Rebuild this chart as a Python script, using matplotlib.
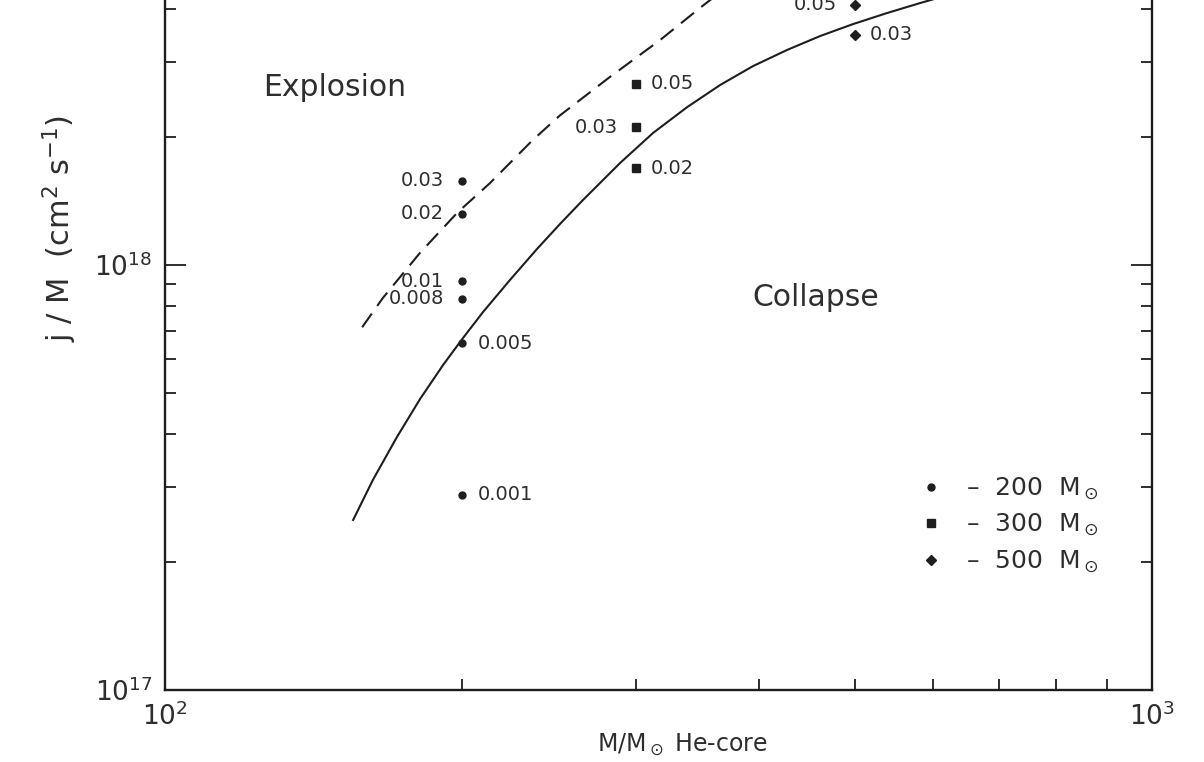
import matplotlib.pyplot as plt
from matplotlib.ticker import NullFormatter
from matplotlib.lines import Line2D

# He-core mass of each model and j/M of the computed runs
m_200 = [200, 200, 200, 200, 200, 200]
j_200 = [1.58e18, 1.32e18, 9.17e17, 8.32e17, 6.55e17, 2.88e17]
eps_200 = ['0.03', '0.02', '0.01', '0.008', '0.005', '0.001']

m_300 = [300, 300, 300]
j_300 = [2.67e18, 2.11e18, 1.69e18]
eps_300 = ['0.05', '0.03', '0.02']

m_500 = [500, 500]
j_500 = [3.48e18, 4.10e18]
eps_500 = ['0.03', '0.05']

# boundary between explosion and collapse
solid_m = [155.1, 162.4, 171.8, 181.3, 191.3, 200.4, 210.0, 223.6, 238.1, 251.3,
           265.1, 289.1, 312.2, 338.1, 365.1, 394.3, 426.7, 461.0, 497.9, 538.9,
           582.1, 631.6]
solid_j = [2.512e17, 3.120e17, 3.939e17, 4.838e17, 5.817e17, 6.733e17, 7.752e17,
           9.220e17, 1.090e18, 1.249e18, 1.422e18, 1.738e18, 2.045e18, 2.353e18,
           2.652e18, 2.939e18, 3.206e18, 3.458e18, 3.690e18, 3.917e18, 4.135e18,
           4.365e18]

dash_m = [158.4, 166.2, 181.2, 197.9, 213.5, 235.9, 251.3, 282.3, 317.2, 348.5, 373.2]
dash_j = [7.14e17, 8.36e17, 1.067e18, 1.33e18, 1.56e18, 1.97e18, 2.25e18, 2.77e18,
          3.38e18, 4.03e18, 4.56e18]

# which side each number sits on
side_200 = ['l', 'l', 'l', 'l', 'r', 'r']
side_300 = ['r', 'l', 'r']
side_500 = ['r', 'l']

ink = '#1e1e1e'
txt = '#2e2e2e'

fig = plt.figure(figsize=(12.04, 7.62), dpi=100)
ax = fig.add_axes([165 / 1204, 72 / 762, 987 / 1204, 722 / 762])
ax.set_xscale('log')
ax.set_yscale('log')
ax.set_xlim(100, 1000)
ax.set_ylim(1e17, 5e18)

ax.plot(solid_m, solid_j, color=ink, lw=1.5)
ax.plot(dash_m, dash_j, color=ink, lw=1.5, dashes=(8, 4.5))

ax.plot(m_200, j_200, 'o', color=ink, ms=5)
ax.plot(m_300, j_300, 's', color=ink, ms=5.5)
ax.plot(m_500, j_500, 'D', color=ink, ms=5)


def label_points(xs, ys, labels, sides):
    for x, y, s, side in zip(xs, ys, labels, sides):
        dx = -13 if side == 'l' else 11
        ax.annotate(s, (x, y), xytext=(dx, 0), textcoords='offset points',
                    ha='right' if side == 'l' else 'left', va='center',
                    fontsize=14, color=txt)


label_points(m_200, j_200, eps_200, side_200)
label_points(m_300, j_300, eps_300, side_300)
label_points(m_500, j_500, eps_500, side_500)

ax.text(0.172, 0.835, 'Explosion', transform=ax.transAxes, fontsize=21.5,
        color=txt, ha='center', va='center')
ax.text(0.659, 0.544, 'Collapse', transform=ax.transAxes, fontsize=21.5,
        color=txt, ha='center', va='center')

handles = [
    Line2D([], [], ls='none', marker='o', ms=5, color=ink),
    Line2D([], [], ls='none', marker='s', ms=5.5, color=ink),
    Line2D([], [], ls='none', marker='D', ms=5, color=ink),
]
names = ['–  200  M$_\\odot$', '–  300  M$_\\odot$', '–  500  M$_\\odot$']
leg = ax.legend(handles, names, loc='center left', bbox_to_anchor=(0.7655, 0.2285),
                frameon=False, fontsize=18, handlelength=0.8, handletextpad=1.0,
                labelspacing=0.4, borderpad=0, borderaxespad=0)
for t in leg.get_texts():
    t.set_color(txt)

for side in ['left', 'right', 'bottom']:
    ax.spines[side].set_linewidth(1.7)
    ax.spines[side].set_color(ink)
ax.spines['top'].set_visible(False)

ax.tick_params(which='both', direction='in', left=True, right=True, top=False,
               color=ink, width=1.3)
ax.tick_params(which='major', length=15, labelsize=19, labelcolor=txt, pad=9)
ax.tick_params(which='minor', length=8)
ax.xaxis.set_minor_formatter(NullFormatter())
ax.yaxis.set_minor_formatter(NullFormatter())

fig.text(0.05, 0.70, 'j / M  (cm$^2$ s$^{-1}$)', rotation=90, fontsize=22,
         color=txt, ha='center', va='center')
fig.text(0.567, 0.022, 'M/M$_\\odot$ He-core', fontsize=17, color=txt,
         ha='center', va='center')

fig.savefig('out.png', dpi=100)
